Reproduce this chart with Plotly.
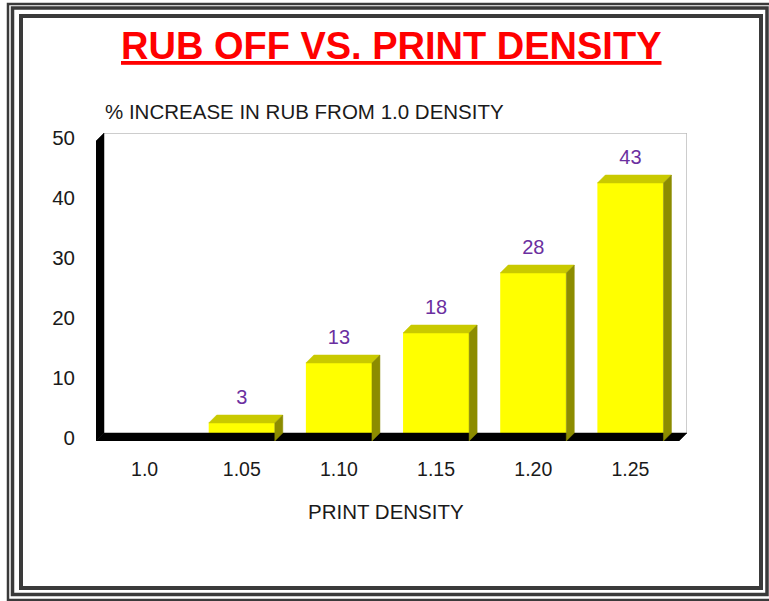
import plotly.graph_objects as go

# ---- data ----
categories = ["1.0", "1.05", "1.10", "1.15", "1.20", "1.25"]
values = [0, 3, 13, 18, 28, 43]
y_ticks = [0, 10, 20, 30, 40, 50]

W, H = 769, 601
FONT = "Liberation Sans, Arial, sans-serif"

# front plane in pixels
PX_L, PX_R = 96, 679
PY_T, PY_B = 141, 441
DEPTH = 8  # px of 3D depth
X_FRONT = [-0.5, len(categories) - 0.5]
Y_FRONT = [0, 50]
dx = DEPTH * (X_FRONT[1] - X_FRONT[0]) / (PX_R - PX_L)
dy = DEPTH * (Y_FRONT[1] - Y_FRONT[0]) / (PY_B - PY_T)
px_per_unit = (PY_B - PY_T) / (Y_FRONT[1] - Y_FRONT[0])
BAR_W = 0.68

# plot area extended by depth so the 3D walls are not clipped
X_RANGE = [X_FRONT[0], X_FRONT[1] + dx]
Y_RANGE = [Y_FRONT[0], Y_FRONT[1] + dy]

def px(x):
    return x / W

def py(y):
    return 1 - y / H

fig = go.Figure()

xs = list(range(len(categories)))
x0f, x1f = X_FRONT
ytop = Y_FRONT[1]

# back wall outline (gray)
fig.add_trace(go.Scatter(
    x=[x0f + dx, x1f + dx, x1f + dx],
    y=[ytop + dy, ytop + dy, dy],
    mode="lines", line=dict(color="#bdbdbd", width=1.5),
    hoverinfo="skip", showlegend=False))
# floor slab (black)
fig.add_trace(go.Scatter(
    x=[x0f, x0f + dx, x1f + dx, x1f, x0f],
    y=[0, dy, dy, 0, 0],
    fill="toself", fillcolor="black", mode="lines",
    line=dict(color="black", width=0.5), hoverinfo="skip", showlegend=False))
# left wall edge (black)
fig.add_trace(go.Scatter(
    x=[x0f, x0f + dx, x0f + dx, x0f, x0f],
    y=[0, dy, ytop + dy, ytop, 0],
    fill="toself", fillcolor="black", mode="lines",
    line=dict(color="black", width=0.5), hoverinfo="skip", showlegend=False))

# bar front faces
nz_x = [x for x, v in zip(xs, values) if v > 0]
nz_v = [v for v in values if v > 0]
fig.add_trace(go.Bar(
    x=nz_x, y=nz_v, width=BAR_W,
    marker=dict(color="#FFFF00", line=dict(width=0)),
    hoverinfo="skip", showlegend=False))

# top and side faces
for x, v in zip(nz_x, nz_v):
    l, r = x - BAR_W / 2, x + BAR_W / 2
    fig.add_trace(go.Scatter(
        x=[l, r, r + dx, l + dx, l],
        y=[v, v, v + dy, v + dy, v],
        fill="toself", fillcolor="#C9C900", mode="lines",
        line=dict(color="#C9C900", width=0.5), hoverinfo="skip",
        showlegend=False))
    fig.add_trace(go.Scatter(
        x=[r, r + dx, r + dx, r, r],
        y=[0, dy, v + dy, v, 0],
        fill="toself", fillcolor="#8C8C00", mode="lines",
        line=dict(color="#8C8C00", width=0.5), hoverinfo="skip",
        showlegend=False))

# value labels
fig.add_trace(go.Scatter(
    x=nz_x, y=[v + 24 / px_per_unit for v in nz_v],
    mode="text", text=[str(v) for v in nz_v],
    textfont=dict(family=FONT, size=20, color="#6B2FA0"),
    textposition="middle center", hoverinfo="skip", showlegend=False,
    cliponaxis=False))

# frame
frame = [
    (8, 4, 772, 600, 2.5, "#3a3a3a"),
    (12.5, 8, 767, 594.5, 3.5, "#3a3a3a"),
    (21, 16, 761, 588, 4, "#3a3a3a"),
]
shapes = []
for x0, y0, x1, y1, w, c in frame:
    shapes.append(dict(type="rect", xref="paper", yref="paper",
                       x0=px(x0), x1=px(x1), y0=py(y0), y1=py(y1),
                       line=dict(color=c, width=w), layer="above"))

annotations = [
    dict(text="<b><u>RUB OFF VS. PRINT DENSITY</u></b>", xref="paper", yref="paper",
         x=px(391), y=py(46), xanchor="center", yanchor="middle", showarrow=False,
         font=dict(family=FONT, size=38, color="#FF0000")),
    dict(text="% INCREASE IN RUB FROM 1.0 DENSITY", xref="paper", yref="paper",
         x=px(103), y=py(111), xanchor="left", yanchor="middle", showarrow=False,
         font=dict(family=FONT, size=20.5, color="#1a1a1a")),
    dict(text="PRINT DENSITY", xref="paper", yref="paper",
         x=px(386), y=py(511), xanchor="center", yanchor="middle", showarrow=False,
         font=dict(family=FONT, size=20.5, color="#1a1a1a")),
]

fig.update_layout(
    width=W, height=H,
    margin=dict(l=0, r=0, t=0, b=0, autoexpand=False),
    paper_bgcolor="white", plot_bgcolor="white",
    shapes=shapes, annotations=annotations,
    xaxis=dict(domain=[px(PX_L), px(PX_R + DEPTH)], range=X_RANGE,
               tickmode="array", tickvals=xs, ticktext=categories,
               showgrid=False, zeroline=False, showline=False, ticks="",
               ticklabelstandoff=14,
               tickfont=dict(family=FONT, size=19.5, color="#1a1a1a"),
               fixedrange=True),
    yaxis=dict(domain=[py(PY_B), py(PY_T - DEPTH)], range=Y_RANGE,
               tickmode="array", tickvals=y_ticks,
               showgrid=False, zeroline=False, showline=False, ticks="",
               ticklabelstandoff=20, ticklabelshift=-3,
               tickfont=dict(family=FONT, size=20.5, color="#1a1a1a"),
               fixedrange=True),
    bargap=0.32,
)

fig.write_html("out.html", config={"displayModeBar": False},
               post_script="document.body.style.margin='0';document.body.style.overflow='hidden';")
